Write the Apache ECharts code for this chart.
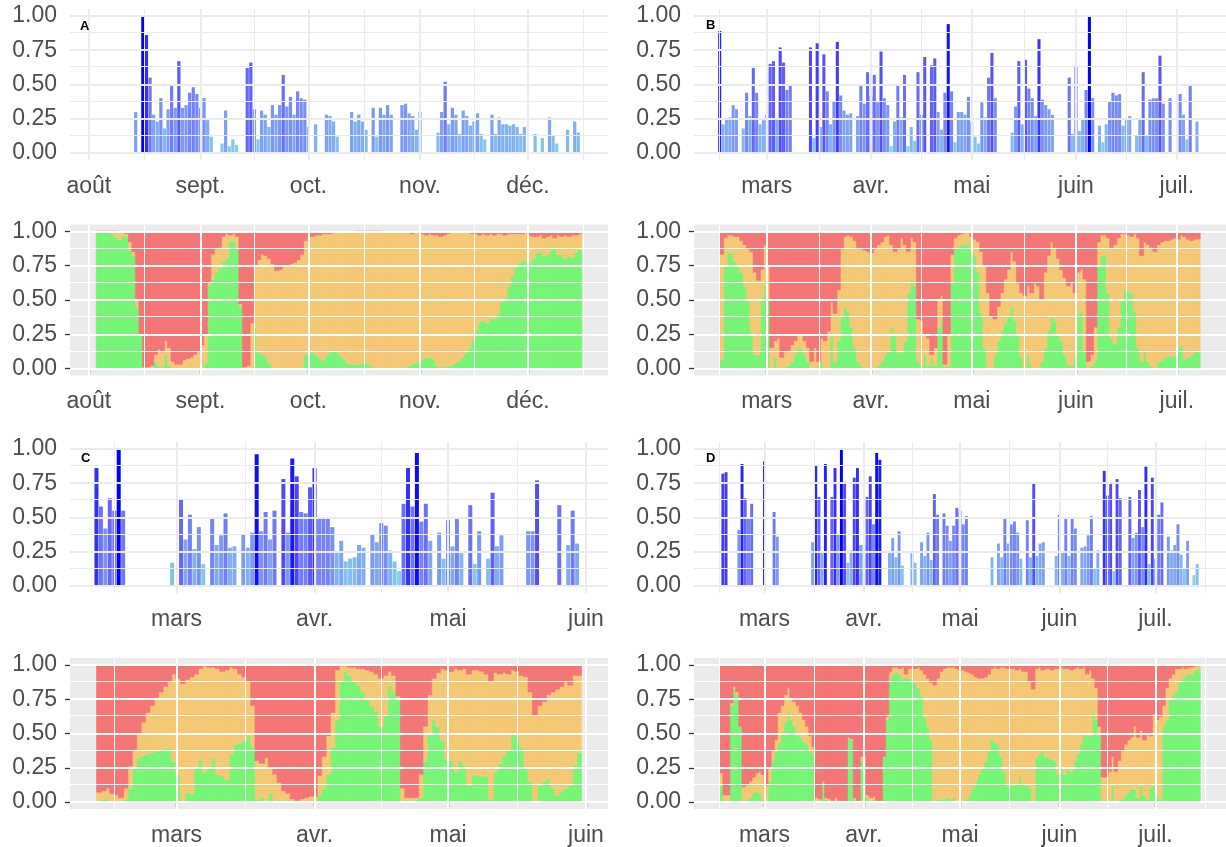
<!DOCTYPE html>
<html><head><meta charset="utf-8">
<script src="https://cdn.jsdelivr.net/npm/echarts@6/dist/echarts.min.js"></script>
<style>html,body{margin:0;padding:0;background:#fff}#c{width:1226px;height:847px}</style>
</head><body><div id="c"></div>
<script>
// ---------- data ----------
const startA = '2021-08-03', startB = '2022-02-15', startC = '2022-02-11', startD = '2022-02-15';
const monthLabels = ['janv.','févr.','mars','avr.','mai','juin','juil.','août','sept.','oct.','nov.','déc.'];
const yTicks = [0, 0.25, 0.5, 0.75, 1];
const yMinor = [0.125, 0.375, 0.625, 0.875];
const panelLetters = ['A', 'B', 'C', 'D'];

const barsA = [null,null,null,null,null,null,null,null,null,null,
 null,.30,null,1.00,.86,.55,.28,.23,.40,.18,
 .32,.50,.33,.67,.33,.35,.44,.48,.43,.33,
 .40,.24,.12,null,null,.07,.31,.05,.10,.06,
 null,null,.62,.66,.32,.10,.31,.28,.19,.35,
 .28,.35,.57,.34,.41,.28,.45,.40,.39,.19,
 null,.21,null,null,.28,.27,.23,.12,null,null,
 null,.30,.23,.28,.23,.17,null,.33,.12,.33,
 .28,.35,.28,null,null,.35,.36,.29,.27,.17,
 .30,null,null,null,null,.15,.30,.52,.21,.33,
 .28,.14,.31,.27,.20,.23,.29,.14,.10,null,
 .28,.14,.26,.21,.21,.20,.21,.19,.14,.19,
 null,null,.14,null,.11,null,.26,.13,.07,null,
 null,.17,null,.23,.15,null];
const greenA = [.99,.99,.99,.99,.98,.96,.94,.97,.96,.86,
 .82,.45,.24,.01,0,0,.05,.02,.01,.10,
 .02,0,0,0,.01,0,0,0,0,.01,
 .04,.60,.65,.70,.73,.78,.80,.93,.93,.88,
 .45,0,0,.01,.30,.12,.10,.09,.04,.01,
 0,0,0,0,0,0,0,.01,.10,.12,
 .12,.10,.08,.06,.10,.12,.14,.12,.09,.07,
 .04,.03,.03,.03,.04,.05,.03,.01,.01,0,
 0,0,0,0,0,0,.01,.02,.03,.04,
 .06,.07,.08,.08,.07,.02,.01,.01,.02,.02,
 .04,.05,.08,.11,.15,.21,.28,.34,.35,.33,
 .37,.36,.40,.48,.52,.60,.67,.74,.77,.80,
 .78,.77,.80,.84,.85,.82,.83,.86,.89,.83,
 .83,.80,.82,.81,.85,.87];
const orangeA = [.01,.01,.01,.01,.02,.04,.05,.02,.02,.06,
 .03,.05,.01,0,.01,.02,.05,.12,.11,.10,
 .13,.05,.03,.03,.05,.07,.08,.10,.12,.16,
 .21,.03,.18,.17,.15,.18,.18,.04,.05,.08,
 .02,.01,.02,.32,.45,.67,.73,.73,.76,.75,
 .71,.72,.74,.75,.76,.77,.79,.82,.83,.84,
 .84,.87,.89,.92,.88,.86,.85,.87,.90,.92,
 .95,.96,.96,.97,.96,.95,.97,.99,.99,1,
 .99,.99,.99,.99,.99,.99,.98,.97,.95,.95,
 .93,.91,.89,.90,.90,.95,.95,.96,.96,.97,
 .95,.94,.91,.88,.84,.77,.70,.63,.63,.64,
 .61,.61,.58,.50,.45,.38,.31,.24,.21,.18,
 .21,.20,.16,.12,.12,.13,.13,.11,.06,.14,
 .13,.17,.14,.16,.12,.11];
const redA = [0,0,0,0,0,0,.01,.01,.02,.08,
 .15,.50,.75,.99,.99,.98,.90,.86,.88,.80,
 .85,.95,.97,.97,.94,.93,.92,.90,.88,.83,
 .75,.37,.17,.13,.12,.04,.02,.03,.02,.04,
 .53,.99,.98,.67,.25,.21,.17,.18,.20,.24,
 .29,.28,.26,.25,.24,.23,.21,.17,.07,.04,
 .04,.03,.03,.02,.02,.02,.01,.01,.01,.01,
 .01,.01,.01,0,0,0,0,0,0,0,
 .01,.01,.01,.01,.01,.01,.01,.01,.02,.01,
 .01,.02,.03,.02,.03,.03,.04,.03,.02,.01,
 .01,.01,.01,.01,.01,.02,.02,.03,.02,.03,
 .02,.03,.02,.02,.03,.02,.02,.02,.02,.02,
 .01,.03,.04,.04,.03,.05,.04,.03,.05,.03,
 .04,.03,.04,.03,.03,.02];

const barsB = [.89,.21,.25,.26,.35,.32,null,.18,.44,.27,
 .62,.44,.21,.24,.28,.65,.67,.25,.77,.66,
 .46,.49,null,null,null,null,null,.77,.11,.80,
 .19,.72,.45,.21,.38,.81,.42,.31,.28,.29,
 null,.27,.49,.36,.59,.42,.57,.37,.74,.40,
 .35,.05,.23,.50,.26,.57,.05,.19,.09,.59,
 .28,.70,null,.64,.69,.30,.17,.44,.94,.45,
 .08,.30,.30,.28,.41,.23,.12,.07,.37,.26,
 .55,.73,.40,null,null,null,null,.15,.34,.67,
 .21,.68,.47,.40,.27,.83,.39,.35,.32,.28,
 null,null,null,null,.55,.14,.63,.16,.25,.46,
 1.00,.40,null,.20,.08,.21,.38,.44,.42,.43,
 .20,.25,.27,null,.13,.25,.59,.13,.39,.40,
 .40,.71,.36,null,.40,null,null,.43,.28,.10,
 .49,null,.23,null];
const greenB = [.07,.75,.85,.84,.78,.75,.70,.60,.50,.27,
 .10,.10,.52,.60,.50,0,.08,0,0,.01,
 .02,.05,.10,.15,.14,.10,.05,0,0,0,
 .05,0,.01,.25,.05,.20,.38,.45,.42,.30,
 .15,.05,.02,0,0,.01,0,.02,.05,.10,
 .12,.30,.25,.12,.12,.20,.55,.65,.60,.05,
 .02,.10,.02,.08,.02,.30,.35,.01,.02,.62,
 .88,.89,.90,.90,.92,.88,.82,.70,.40,.15,
 .01,0,.10,.20,.28,.33,.38,.45,.35,.25,
 .08,.01,.10,.02,0,0,.05,.15,.28,.38,
 .35,.25,.20,.10,.03,.02,.10,.40,.42,.12,
 .01,.02,.05,.75,.82,.83,.55,.22,.18,.30,
 .50,.58,.56,.55,.42,.15,.05,.12,.05,.02,
 0,.05,.06,.08,.10,.09,.09,.15,.17,.07,
 .08,.10,.12,.12];
const orangeB = [.76,.20,.12,.13,.18,.21,.23,.30,.37,.58,
 .60,.54,.20,.30,.25,.15,.12,.22,.08,.11,
 .11,.12,.10,.09,.10,.10,.10,.05,.15,.05,
 .17,.20,.26,.23,.35,.37,.49,.51,.55,.66,
 .78,.83,.85,.86,.85,.83,.88,.88,.87,.86,
 .85,.60,.60,.75,.83,.70,.30,.30,.32,.31,
 .33,.15,.20,.02,.13,.20,.18,.02,.23,.21,
 .07,.08,.08,.09,.07,.08,.12,.22,.45,.60,
 .54,.38,.26,.25,.27,.32,.34,.40,.43,.37,
 .47,.52,.50,.53,.62,.60,.45,.55,.54,.54,
 .53,.55,.52,.56,.57,.61,.45,.30,.30,.53,
 .04,.08,.25,.17,.15,.14,.40,.66,.72,.65,
 .48,.40,.41,.41,.56,.80,.77,.80,.85,.86,
 .85,.85,.86,.85,.83,.85,.86,.79,.80,.89,
 .86,.83,.82,.82];
const redB = [.17,.05,.03,.03,.04,.04,.07,.10,.13,.15,
 .30,.36,.28,.10,.25,.85,.80,.78,.92,.88,
 .87,.83,.80,.76,.76,.80,.85,.95,.85,.95,
 .78,.80,.73,.52,.60,.43,.13,.04,.03,.04,
 .07,.12,.13,.14,.15,.16,.12,.10,.08,.04,
 .03,.10,.15,.13,.05,.10,.15,.05,.08,.64,
 .65,.75,.78,.90,.85,.50,.47,.97,.75,.17,
 .05,.03,.02,.01,.01,.04,.06,.08,.15,.25,
 .45,.62,.64,.55,.45,.35,.28,.15,.22,.38,
 .45,.47,.40,.45,.38,.40,.50,.30,.18,.08,
 .12,.20,.28,.34,.40,.37,.45,.30,.28,.35,
 .95,.90,.70,.08,.03,.03,.05,.12,.10,.05,
 .02,.02,.03,.04,.02,.05,.18,.08,.10,.12,
 .15,.10,.08,.07,.07,.06,.05,.06,.03,.04,
 .06,.07,.06,.06];

const barsC = [.86,.58,.42,.64,.55,1.00,.55,null,null,null,
 null,null,null,null,null,null,null,.17,null,.63,
 .34,.52,.27,.43,.16,null,.50,.30,.37,.53,
 .28,.29,null,.38,.28,.39,.96,.40,.54,.34,
 .55,null,.78,.39,.93,.80,.54,.53,.72,.86,
 .49,.50,.50,.43,.25,.33,.18,.20,.21,.30,
 .28,null,.38,.32,.46,.44,.26,.18,.11,.60,
 .86,.58,.97,.47,.60,.33,null,.39,.20,.48,
 .29,.49,.24,null,.59,.16,.40,null,.20,.68,
 .29,.37,null,null,null,null,null,.40,.40,.77,
 null,null,null,null,.59,null,.30,.55,.31,null];
const greenC = [0,.02,.02,0,0,.01,.02,.10,.25,.32,
 .34,.35,.36,.37,.38,.39,.39,.30,.20,.01,
 .07,.06,.25,.31,.22,.26,.32,.20,.19,.16,
 .35,.42,.43,.45,.48,.40,.02,.04,.01,.07,
 .01,.02,0,.02,0,0,0,0,0,.01,
 .05,.10,.20,.40,.60,.88,.95,.92,.88,.85,
 .80,.76,.70,.66,.55,.63,.85,.80,.75,.01,
 .02,.01,.02,.03,.30,.50,.60,.55,.45,.31,
 .30,.22,.30,.27,.12,.20,.19,.19,.19,.02,
 .22,.28,.34,.38,.50,.48,.40,.25,.15,.01,
 .12,.15,.17,.10,.05,.08,.10,.12,.27,.36];
const orangeC = [.07,.06,.08,.06,.05,.02,.08,.16,.13,.18,
 .24,.30,.34,.38,.42,.45,.49,.63,.70,.85,
 .82,.85,.68,.66,.77,.72,.66,.77,.76,.80,
 .63,.55,.50,.46,.40,.30,.28,.24,.31,.18,
 .19,.12,.08,.04,.02,.01,.02,.03,.04,.03,
 .14,.23,.28,.25,.36,.11,.04,.06,.10,.12,
 .17,.20,.25,.27,.35,.29,.10,.12,.02,.09,
 .01,.02,.01,.17,.25,.28,.30,.39,.52,.65,
 .65,.75,.66,.70,.81,.76,.77,.76,.74,.86,
 .72,.65,.60,.55,.46,.47,.52,.66,.65,.62,
 .58,.58,.61,.70,.77,.76,.78,.73,.65,.56];
const redC = [.93,.92,.90,.94,.95,.97,.90,.74,.62,.50,
 .42,.35,.30,.25,.20,.16,.12,.07,.10,.14,
 .11,.09,.07,.03,.01,.02,.02,.03,.05,.04,
 .02,.03,.07,.09,.12,.30,.70,.72,.68,.75,
 .80,.86,.92,.94,.98,.99,.98,.97,.96,.96,
 .81,.67,.52,.35,.04,.01,.01,.02,.02,.03,
 .03,.04,.05,.07,.10,.08,.05,.08,.23,.90,
 .97,.97,.97,.80,.45,.22,.10,.06,.03,.04,
 .05,.03,.04,.03,.07,.04,.04,.05,.07,.12,
 .06,.07,.06,.07,.04,.05,.08,.09,.20,.37,
 .30,.27,.22,.20,.18,.16,.12,.15,.08,.08];

const barsD = [null,.82,.83,null,null,null,.41,.89,.64,.50,
 .60,null,null,null,.91,null,null,.54,.36,null,
 null,null,null,null,null,null,null,null,null,.32,
 .88,.65,.24,.89,null,.65,.86,.38,1.00,.76,
 .17,.26,.79,.86,.30,.30,.65,.80,.45,.97,
 .92,null,null,.25,.35,.21,.40,.15,null,null,
 .24,.17,null,.32,.22,.39,.19,.67,.52,null,
 .53,.44,.33,.44,.57,.55,.45,.51,null,null,
 null,null,null,null,null,.21,null,.31,.21,.50,
 .31,.45,.47,.39,.20,null,.48,.21,.75,.22,
 .31,.32,null,null,null,.22,.52,.25,.49,.22,
 .49,.42,null,.28,.29,.37,.51,.13,.26,null,
 .84,.66,.75,.11,.78,.64,null,null,.65,.35,
 .39,.70,.43,.87,.16,.79,.20,.52,.61,null,
 .36,.26,.30,.45,.23,.13,.33,null,.08,.16,
 null];
const greenD = [.12,0,0,.70,.82,.78,.55,.01,.02,.03,
 .07,.08,.06,.02,0,.15,.30,.37,.43,.50,
 .58,.66,.60,.55,.50,.47,.44,.42,.38,.35,
 .01,.01,.12,.02,.01,.01,.01,0,0,.01,
 .46,.45,.02,.01,.30,.30,.03,.01,.02,0,
 0,.33,.60,.90,.93,.95,.93,.90,.91,.90,
 .88,.87,.83,.78,.62,.55,.45,.01,.02,.02,
 .02,.03,.02,.03,.01,0,0,.02,.05,.10,
 .15,.20,.25,.30,.38,.46,.44,.42,.33,.22,
 .12,.15,.12,.14,.20,.13,.12,.10,.01,.32,
 .35,.37,.33,.32,.31,.30,.20,.25,.20,.25,
 .22,.30,.35,.42,.50,.48,.48,.65,.60,.50,
 .01,.02,0,.12,0,.02,.02,.05,.07,.10,
 .09,.03,.12,.05,.02,.10,.13,.05,.02,.55,
 .60,.75,.78,.80,.88,.90,.92,.94,.93,.96,
 .97];
const orangeD = [.09,.05,.05,.02,.02,.02,0,.10,.11,.12,
 .11,.13,.16,.18,.12,.10,.08,.08,.22,.20,
 .20,.17,.16,.18,.20,.18,.16,.13,.10,.05,
 .02,.01,.03,.01,.01,0,.02,.01,.01,0,
 .01,.01,.01,0,.03,.04,.02,.02,.02,.01,
 .01,0,.02,.05,.05,.03,.04,.08,.02,.07,
 .10,.10,.15,.18,.31,.35,.42,.84,.88,.93,
 .95,.95,.96,.95,.96,.96,.96,.93,.89,.83,
 .76,.70,.65,.61,.55,.51,.54,.55,.65,.76,
 .85,.82,.85,.82,.77,.82,.83,.78,.81,.65,
 .63,.59,.64,.65,.65,.67,.77,.73,.77,.72,
 .74,.67,.63,.55,.48,.45,.48,.25,.23,.05,
 .17,.16,.22,.21,.22,.28,.35,.37,.38,.37,
 .46,.44,.40,.40,.48,.38,.51,.55,.60,.15,
 .23,.15,.15,.17,.09,.08,.05,.04,.05,.03,
 .02];
const redD = [.79,.95,.95,.28,.16,.20,.45,.89,.87,.85,
 .82,.79,.78,.80,.88,.75,.62,.55,.35,.30,
 .22,.17,.24,.27,.30,.35,.40,.45,.52,.60,
 .97,.98,.85,.97,.98,.99,.97,.99,.99,.99,
 .53,.54,.97,.99,.67,.66,.95,.97,.96,.99,
 .99,.67,.38,.05,.02,.02,.03,.02,.07,.03,
 .02,.03,.02,.04,.07,.10,.13,.15,.10,.05,
 .03,.02,.02,.02,.03,.04,.04,.05,.06,.07,
 .09,.10,.10,.09,.07,.03,.02,.03,.02,.02,
 .03,.03,.03,.04,.03,.05,.05,.12,.18,.03,
 .02,.04,.03,.03,.04,.03,.03,.02,.03,.03,
 .04,.03,.02,.03,.02,.07,.04,.10,.17,.45,
 .82,.82,.78,.67,.78,.70,.63,.58,.55,.53,
 .45,.53,.48,.55,.50,.52,.36,.40,.38,.30,
 .17,.10,.07,.03,.03,.02,.03,.02,.02,.01,
 .01];

// ---------- layout & style ----------
const FONT = '"Liberation Sans", Arial, sans-serif';
const DAY = 864e5;
const colPos = [{left: 70, width: 538}, {left: 694, width: 538}];
const rowTop = [9, 224.5, 442, 658];
const ROW_H = 151;
const blueStops = ['#87CEEB', '#80A3F2', '#7178F7', '#544AFB', '#0000FF'];
// half-transparent red / orange / green as they appear over the grey panel
const C_RED = '#F57676', C_ORANGE = '#F5C876', C_GREEN = '#76F576';

const panels = [
  {start: startA, bars: barsA, g: greenA, o: orangeA, r: redA, col: 0, row: 0},
  {start: startB, bars: barsB, g: greenB, o: orangeB, r: redB, col: 1, row: 0},
  {start: startC, bars: barsC, g: greenC, o: orangeC, r: redC, col: 0, row: 2},
  {start: startD, bars: barsD, g: greenD, o: orangeD, r: redD, col: 1, row: 2}
];

function dayNum(s) { const p = s.split('-').map(Number); return Date.UTC(p[0], p[1] - 1, p[2]) / DAY; }
function monthStart(y, m) { return Date.UTC(y, m, 1) / DAY; }

const grids = [], xAxes = [], yAxes = [], series = [], visualMaps = [], graphics = [];
let warn = '';

function gridLineSeries(xi, yi, majors, minors, color, z) {
  const ml = [];
  minors.forEach(v => ml.push({xAxis: v, lineStyle: {color: color, width: 1, type: 'solid'}}));
  yMinor.forEach(v => ml.push({yAxis: v, lineStyle: {color: color, width: 1, type: 'solid'}}));
  majors.forEach(v => ml.push({xAxis: v, lineStyle: {color: color, width: 2, type: 'solid'}}));
  yTicks.forEach(v => ml.push({yAxis: v, lineStyle: {color: color, width: 2, type: 'solid'}}));
  return {type: 'line', xAxisIndex: xi, yAxisIndex: yi, data: [], z: z, silent: true,
    markLine: {silent: true, symbol: ['none', 'none'], label: {show: false}, animation: false, data: ml}};
}

panels.forEach((p, pi) => {
  const s = dayNum(p.start), n = p.bars.length;
  [p.g, p.o, p.r].forEach(a => { if (a.length !== n) warn += panelLetters[pi] + ':' + a.length + '/' + n + ' '; });
  const span = (n - 1) + 0.9;
  const xmin = s - 0.45 - 0.05 * span, xmax = s + n - 1 + 0.45 + 0.05 * span;
  const d0 = new Date(xmin * DAY);
  const y = d0.getUTCFullYear(), m = d0.getUTCMonth() - 1;
  const starts = [];
  for (let k = 0; k < 10; k++) starts.push(monthStart(y, m + k));
  const majors = starts.filter(v => v >= xmin && v <= xmax);
  const minors = [];
  for (let k = 0; k < starts.length - 1; k++) { const mid = (starts[k] + starts[k + 1]) / 2; if (mid >= xmin && mid <= xmax) minors.push(mid); }

  [0, 1].forEach(sub => {
    const isStack = sub === 1;
    const gi = grids.length;
    const c = colPos[p.col];
    const pxPerDay = c.width / (xmax - xmin);
    grids.push({left: c.left, width: c.width, top: rowTop[p.row + sub], height: ROW_H,
      show: isStack, backgroundColor: '#EBEBEB', borderWidth: 0, containLabel: false});
    const tickStyle = {show: isStack, length: 5, lineStyle: {color: '#333333', width: 1.3}};
    const xi = xAxes.length;
    xAxes.push({type: 'value', gridIndex: gi, min: xmin, max: xmax,
      axisLine: {show: false}, splitLine: {show: false},
      axisTick: Object.assign({customValues: majors}, tickStyle),
      axisLabel: {customValues: majors, color: '#4D4D4D', fontSize: 23, fontFamily: FONT, margin: 15,
        formatter: v => monthLabels[new Date(Math.round(v) * DAY).getUTCMonth()]}});
    const ti = xAxes.length;
    xAxes.push({type: 'time', gridIndex: gi, min: xmin * DAY, max: xmax * DAY, show: false,
      axisLine: {show: false}, axisTick: {show: false}, axisLabel: {show: false}, splitLine: {show: false}});
    yAxes.push({type: 'value', gridIndex: gi, min: -0.05, max: 1.05,
      axisLine: {show: false}, splitLine: {show: false},
      axisTick: Object.assign({customValues: yTicks}, tickStyle),
      axisLabel: {customValues: yTicks, color: '#4D4D4D', fontSize: 23, fontFamily: FONT, margin: 13,
        formatter: v => v.toFixed(2)}});
    series.push(gridLineSeries(xi, gi, majors, minors, isStack ? '#FFFFFF' : '#EBEBEB', 1));
    if (!isStack) {
      const si = series.length;
      series.push({type: 'bar', xAxisIndex: xi, yAxisIndex: gi, z: 2, barWidth: pxPerDay * 0.9,
        data: p.bars.map((v, i) => [s + i, v])});
      const vals = p.bars.filter(v => v !== null);
      visualMaps.push({type: 'continuous', show: false, seriesIndex: si, dimension: 1,
        min: Math.min.apply(null, vals), max: Math.max.apply(null, vals), inRange: {color: blueStops}});
    } else {
      [[p.g, C_GREEN], [p.o, C_ORANGE], [p.r, C_RED]].forEach(([arr, col]) => {
        series.push({type: 'bar', xAxisIndex: ti, yAxisIndex: gi, z: 2, stack: 'st' + pi,
          barWidth: pxPerDay + 1.2,
          itemStyle: {color: col, borderColor: col, borderWidth: 0.6},
          data: arr.map((v, i) => [(s + i) * DAY, v])});
      });
      // faint grid lines seen through the translucent bars
      series.push(gridLineSeries(xi, gi, majors, minors, 'rgba(255,255,255,0.13)', 3));
    }
  });
});

const letterPos = [[85, 28], [711, 27], [86, 460], [711, 460]];
panelLetters.forEach((L, i) => graphics.push({type: 'text', left: letterPos[i][0] - 5, top: letterPos[i][1] - 8, z: 10,
  style: {text: L, fill: '#000', fontSize: 13, fontWeight: 'bold', fontFamily: FONT}}));
if (warn) graphics.push({type: 'text', left: 300, top: 400, z: 20, style: {text: 'LEN ' + warn, fill: '#f00', fontSize: 20}});

const chart = echarts.init(document.getElementById('c'), null, {renderer: 'canvas'});
chart.setOption({animation: false, backgroundColor: '#ffffff', grid: grids, xAxis: xAxes, yAxis: yAxes,
  visualMap: visualMaps, series: series, graphic: graphics});
</script></body></html>
